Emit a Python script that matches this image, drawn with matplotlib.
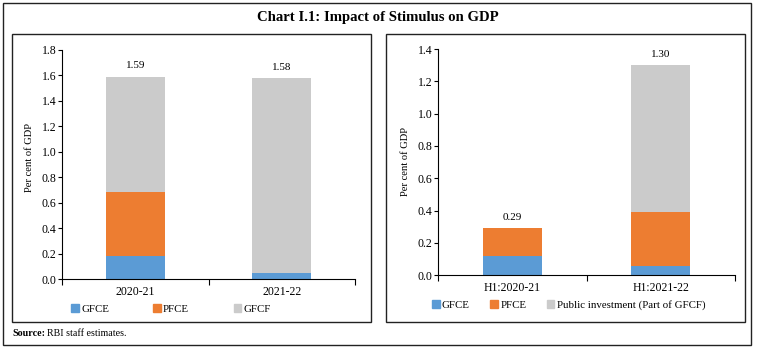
import matplotlib
matplotlib.use("Agg")
import matplotlib.pyplot as plt
from matplotlib.patches import Rectangle, Patch

plt.rcParams["font.family"] = ["Liberation Serif", "DejaVu Serif"]

# left panel: stimulus by year
years = ["2020-21", "2021-22"]
gfce_y = [0.18, 0.05]
pfce_y = [0.50, 0.00]
gfcf_y = [0.91, 1.53]
totals_y = ["1.59", "1.58"]

# right panel: first half of year
halves = ["H1:2020-21", "H1:2021-22"]
gfce_h = [0.12, 0.06]
pfce_h = [0.17, 0.33]
pubinv_h = [0.00, 0.91]
totals_h = ["0.29", "1.30"]

BLUE = "#5B9BD5"
ORANGE = "#ED7D31"
GREY = "#CBCBCB"

W, H = 758, 348
fig = plt.figure(figsize=(W / 100, H / 100), dpi=100)


def px_rect(x0, y0, x1, y1):
    # pixel box (top-left origin) -> figure fraction
    return [x0 / W, 1 - y1 / H, (x1 - x0) / W, (y1 - y0) / H]


# outer frame and panel boxes
for (x0, y0, x1, y1) in [(3, 3, 751, 345), (12, 34, 371, 322), (386, 34, 745, 322)]:
    l, b, w, h = px_rect(x0, y0, x1, y1)
    fig.add_artist(Rectangle((l, b), w, h, transform=fig.transFigure,
                             fill=False, edgecolor="#222222", linewidth=1.0))

fig.text(378 / W, 1 - 18 / H, "Chart I.1: Impact of Stimulus on GDP",
         ha="center", va="center", fontsize=10.6, fontweight="bold")


def draw_panel(ax, cats, s1, s2, s3, totals, ymax, labels, colspace,
               leg_x, ylab_x, ylab_y):
    x = range(len(cats))
    ax.bar(x, s1, width=0.4, color=BLUE)
    ax.bar(x, s2, width=0.4, bottom=s1, color=ORANGE)
    bottom3 = [a + b for a, b in zip(s1, s2)]
    ax.bar(x, s3, width=0.4, bottom=bottom3, color=GREY)
    for i, t in enumerate(totals):
        top = s1[i] + s2[i] + s3[i]
        ax.annotate(t, (i, top), xytext=(0, 4.5), textcoords="offset points",
                    ha="center", va="bottom", fontsize=8)
    ax.set_xlim(-0.5, len(cats) - 0.5)
    ax.set_ylim(0, ymax)
    ax.set_yticks([v / 10 for v in range(0, int(round(ymax * 10)) + 1, 2)])
    ax.yaxis.set_major_formatter(matplotlib.ticker.FormatStrFormatter("%.1f"))
    ax.set_xticks(list(x))
    ax.set_xticklabels(cats)
    ax.set_xticks([i - 0.5 for i in range(len(cats) + 1)], minor=True)
    ax.tick_params(axis="x", which="major", length=0, pad=5, labelsize=8.5)
    ax.tick_params(axis="x", which="minor", length=4, width=0.8)
    ax.tick_params(axis="y", length=3, width=0.8, labelsize=8.5, pad=1)
    for s in ["top", "right"]:
        ax.spines[s].set_visible(False)
    for s in ["left", "bottom"]:
        ax.spines[s].set_linewidth(0.8)
    fig.text(ylab_x / W, 1 - ylab_y / H, "Per cent of GDP", rotation=90,
             ha="center", va="center", fontsize=7.6)
    handles = [Patch(color=BLUE), Patch(color=ORANGE), Patch(color=GREY)]
    ax.legend(handles, labels, ncol=3, loc="upper left",
              bbox_to_anchor=(leg_x, -0.09), frameon=False, fontsize=7.8,
              handlelength=0.7, handleheight=0.7, handletextpad=0.2,
              columnspacing=colspace, borderaxespad=0)


ax1 = fig.add_axes(px_rect(62, 50, 355, 279))
draw_panel(ax1, years, gfce_y, pfce_y, gfcf_y, totals_y, 1.8,
           ["GFCE", "PFCE", "GFCF"], 4.1, 0.017, 30, 157.5)

ax2 = fig.add_axes(px_rect(438, 49, 735, 275.3))
draw_panel(ax2, halves, gfce_h, pfce_h, pubinv_h, totals_h, 1.4,
           ["GFCE", "PFCE", "Public investment (Part of GFCF)"], 1.9, -0.034,
           405, 161)

# source note
src = fig.text(12 / W, 1 - 334 / H, "Source:", fontsize=7.2, fontweight="bold",
               ha="left", va="center")
fig.canvas.draw()
bb = src.get_window_extent()
fig.text((bb.x1 + 2) / W, 1 - 334 / H, "RBI staff estimates.", fontsize=7.2,
         ha="left", va="center")

fig.savefig("out.png", dpi=100)
